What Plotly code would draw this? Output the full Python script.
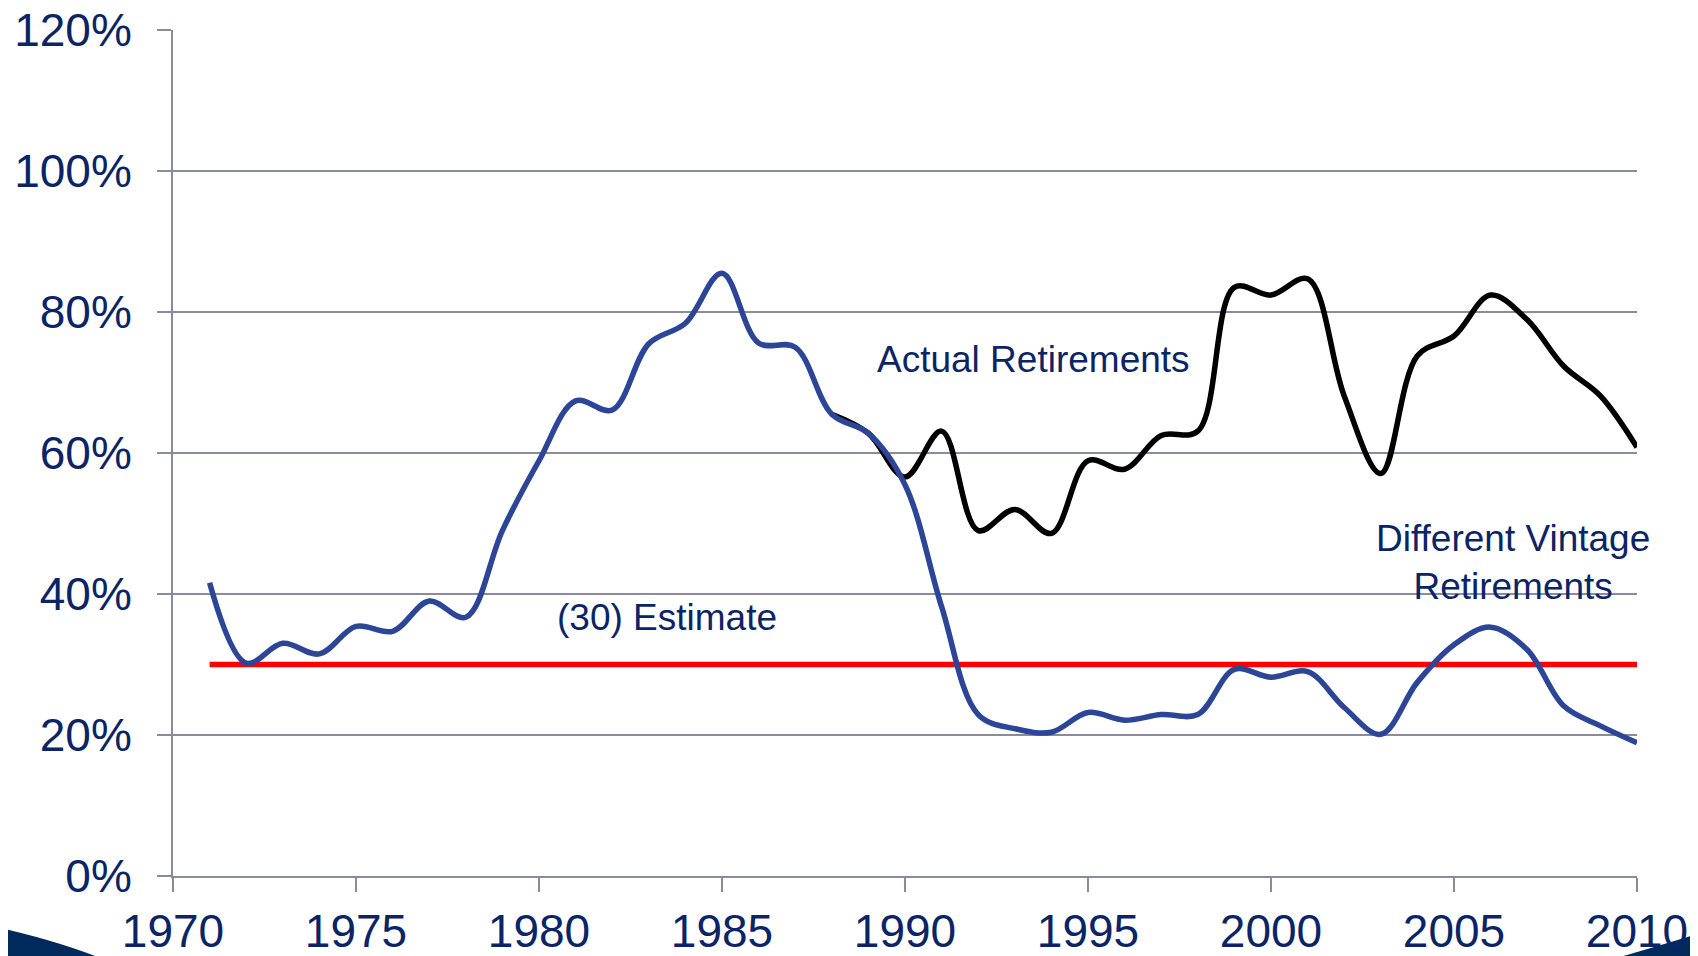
import plotly.graph_objects as go

years = list(range(1971, 2011))
vintage = [41.6, 30.2, 33.0, 31.5, 35.4, 34.7, 39.0, 36.7, 49.0, 58.9,
           67.4, 66.1, 75.5, 78.4, 85.5, 75.6, 75.0, 65.5, 62.8, 55.5,
           38.2, 22.9, 20.9, 20.4, 23.2, 22.1, 22.9, 22.9, 29.3, 28.2,
           29.0, 23.9, 20.1, 27.5, 32.8, 35.3, 32.1, 24.1, 21.3, 18.9]

actual_years = list(range(1988, 2011))
actual = [65.5, 62.8, 56.6, 63.1, 49.0, 52.0, 48.6, 58.9, 57.7, 62.5,
          63.1, 83.5, 82.4, 84.7, 68.1, 57.1, 73.8, 76.6, 82.4, 78.9,
          72.3, 68.1, 60.8]

estimate_years = [1971, 2010]
estimate = [30, 30]

navy = "#0b2466"
grid = "#8a8c9e"

fig = go.Figure()
fig.add_trace(go.Scatter(x=estimate_years, y=estimate, mode="lines",
                         line=dict(color="#ff0000", width=5.5), showlegend=False))
fig.add_trace(go.Scatter(x=actual_years, y=actual, mode="lines",
                         line=dict(color="#000000", width=5.5, shape="spline", smoothing=1.0),
                         showlegend=False))
fig.add_trace(go.Scatter(x=years, y=vintage, mode="lines",
                         line=dict(color="#2c4597", width=5.5, shape="spline", smoothing=1.0),
                         showlegend=False))

font_tick = dict(family="Liberation Sans, Arial, sans-serif", size=46, color=navy)
font_ann = dict(family="Liberation Sans, Arial, sans-serif", size=37, color=navy)

fig.update_layout(
    width=1698, height=956,
    margin=dict(l=165, r=69, t=22, b=88, autoexpand=False),
    paper_bgcolor="white", plot_bgcolor="white",
    showlegend=False,
    xaxis=dict(range=[1970, 2010], tickmode="array", tickvals=list(range(1970, 2011, 5)),
               showgrid=False, zeroline=False, showline=True, linecolor=grid, linewidth=2,
               ticks="outside", ticklen=14, tickwidth=2, tickcolor=grid,
               tickfont=font_tick, fixedrange=True, automargin=False,
               ticklabeloverflow="allow"),
    yaxis=dict(range=[0, 120], tickmode="array", tickvals=list(range(0, 121, 20)),
               ticktext=[f"{v}%" for v in range(0, 121, 20)],
               showgrid=True, gridcolor=grid, gridwidth=1.5, zeroline=False,
               showline=True, linecolor=grid, linewidth=2,
               ticks="outside", ticklen=14, tickwidth=2, tickcolor=grid,
               tickfont=font_tick, fixedrange=True, automargin=False,
               ticklabeloverflow="allow", ticklabelstandoff=16),
    annotations=[
        dict(x=1993.5, y=73.2, text="Actual Retirements", showarrow=False, font=font_ann),
        dict(x=1983.5, y=36.7, text="(30) Estimate", showarrow=False, font=font_ann),
        dict(x=2006.6, y=44.4, text="Different Vintage<br>Retirements", showarrow=False,
             font=font_ann, align="center"),
    ],
    shapes=[
        dict(type="path", xref="paper", yref="paper", layer="below",
             path="M -0.13 -0.0567 Q -0.08 -0.075 -0.0451 -0.1 L -0.13 -0.1 Z",
             fillcolor="#002a5c", line=dict(width=0)),
        dict(type="path", xref="paper", yref="paper", layer="below",
             path="M 0.9795 -0.1 Q 1.01 -0.085 1.05 -0.0638 L 1.05 -0.1 Z",
             fillcolor="#002a5c", line=dict(width=0)),
    ],
)

fig.write_html("out.html")
